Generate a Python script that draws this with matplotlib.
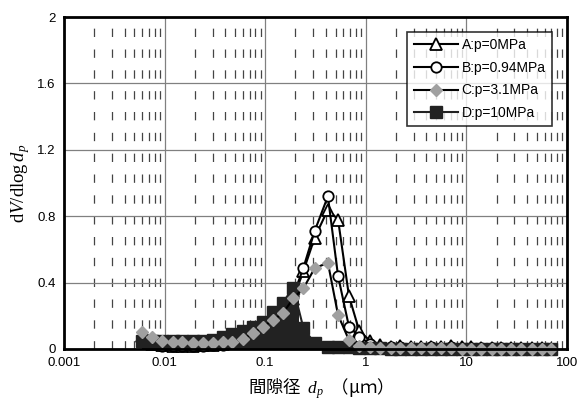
import matplotlib
matplotlib.use("Agg")
import matplotlib.pyplot as plt
from matplotlib.ticker import LogLocator, FixedLocator, NullFormatter

plt.rcParams['font.family'] = ['Liberation Sans', 'DejaVu Sans']
plt.rcParams['lines.scale_dashes'] = False
plt.rcParams['mathtext.fontset'] = 'custom'
plt.rcParams['mathtext.rm'] = 'Liberation Serif'
plt.rcParams['mathtext.it'] = 'Liberation Serif:italic'

# pore diameter (um), shared by all four runs
pore_d = [0.006, 0.0075, 0.0095, 0.012, 0.015, 0.019, 0.024, 0.03, 0.038, 0.047,
          0.06, 0.075, 0.095, 0.12, 0.15, 0.19, 0.24, 0.31, 0.42, 0.53,
          0.68, 0.86, 1.1, 1.4, 1.8, 2.2, 2.8, 3.5, 4.5, 5.6,
          7, 9, 11, 14, 18, 22, 28, 35, 45, 56, 70]

dv_A = [0.08, 0.03, 0.022, 0.02, 0.02, 0.02, 0.022, 0.025, 0.03, 0.045,
        0.055, 0.065, 0.1, 0.13, 0.2, 0.3, 0.47, 0.67, 0.84, 0.78,
        0.32, 0.11, 0.05, 0.025, 0.015, 0.02, 0.012, 0.015, 0.01, 0.012,
        0.018, 0.01, 0.015, 0.008, 0.008, 0.006, 0.005, 0.005, 0.004, 0.004, 0.003]

dv_B = [0.06, 0.028, 0.02, 0.02, 0.02, 0.02, 0.02, 0.022, 0.025, 0.035,
        0.05, 0.07, 0.1, 0.15, 0.22, 0.32, 0.49, 0.71, 0.92, 0.44,
        0.135, 0.075, 0.03, 0.015, 0.01, 0.012, 0.008, 0.006, 0.01, 0.006,
        0.012, 0.006, 0.006, 0.005, 0.004, 0.004, 0.003, 0.003, 0.002, 0.002, 0.002]

dv_C = [0.1, 0.07, 0.05, 0.045, 0.04, 0.035, 0.035, 0.035, 0.04, 0.045,
        0.06, 0.094, 0.134, 0.175, 0.215, 0.305, 0.366, 0.486, 0.52, 0.205,
        0.054, 0.02, 0.01, 0.008, 0.006, 0.006, 0.005, 0.005, 0.004, 0.004,
        0.004, 0.003, 0.003, 0.003, 0.002, 0.002, 0.002, 0.002, 0.001, 0.001, 0.001]

dv_D = [0.05, 0.05, 0.048, 0.048, 0.05, 0.05, 0.05, 0.055, 0.075, 0.09,
        0.11, 0.13, 0.16, 0.22, 0.28, 0.37, 0.125, 0.035, 0.015, 0.012,
        0.01, 0.008, 0.006, 0.004, 0.003, 0.003, 0.002, 0.002, 0.001, 0.001,
        0.0, 0.0, 0.0, 0.0, 0.0, 0.0, 0.0, 0.0, 0.0, 0.0, 0.0]

labels = ["A:p=0MPa", "B:p=0.94MPa", "C:p=3.1MPa", "D:p=10MPa"]
y_ticks = [0, 0.4, 0.8, 1.2, 1.6, 2]
y_ticklabels = ["0", "0.4", "0.8", "1.2", "1.6", "2"]
x_ticks = [0.001, 0.01, 0.1, 1, 10, 100]
x_ticklabels = ["0.001", "0.01", "0.1", "1", "10", "100"]

fig = plt.figure(figsize=(5.85, 4.09), dpi=100)
ax = fig.add_axes([0.1094, 0.1467, 0.8598, 0.8117])

ax.set_xscale('log')
ax.set_xlim(0.001, 100)
ax.set_ylim(0, 2)

# grid: solid majors, dashed minors on x
ax.xaxis.set_major_locator(FixedLocator(x_ticks))
ax.xaxis.set_minor_locator(LogLocator(base=10, subs=[2, 3, 4, 5, 6, 7, 8, 9]))
ax.xaxis.set_minor_formatter(NullFormatter())
ax.set_xticklabels(x_ticklabels)
ax.set_yticks(y_ticks)
ax.set_yticklabels(y_ticklabels)
ax.grid(True, which='major', axis='both', color='#808080', lw=0.9, ls='-')
ax.grid(True, which='minor', axis='x', color='#444444', lw=0.9, ls=(0, (6, 9)))
ax.set_axisbelow(True)
ax.tick_params(which='both', length=0, labelsize=9.5, pad=6)

hA, = ax.plot(pore_d, dv_A, color='black', lw=1.5, marker='^', ms=8,
              mfc='white', mec='black', mew=1.3, clip_on=False, zorder=2.2)
hB, = ax.plot(pore_d, dv_B, color='black', lw=1.5, marker='o', ms=7.5,
              mfc='white', mec='black', mew=1.3, clip_on=False, zorder=2.4)
# dark staircase under the D run (scan looks solid there)
ax.fill_between(pore_d, 0, dv_D, step='mid', color='#222222', lw=0, zorder=3)
hD, = ax.plot(pore_d, dv_D, color='#222222', lw=1.5, marker='s', ms=9,
              mfc='#222222', mec='#222222', clip_on=False, zorder=5)
hC, = ax.plot(pore_d, dv_C, color='black', lw=1.5, marker='D', ms=6.5,
              mfc='#a0a0a0', mec='#a0a0a0', clip_on=False, zorder=6)

for s in ax.spines.values():
    s.set_linewidth(2)
    s.set_zorder(7)

leg = ax.legend([hA, hB, hC, hD], labels, loc='upper right',
                bbox_to_anchor=(0.97, 0.955), fontsize=10, handlelength=3.2,
                frameon=True, fancybox=False, borderpad=0.45, labelspacing=0.62,
                handletextpad=0.25, borderaxespad=0)
leg.get_frame().set_edgecolor('black')
leg.get_frame().set_linewidth(1.2)
leg.set_zorder(10)

ax.set_ylabel(r'd$\mathit{V}$/dlog$\,\mathit{d_p}$', family=['Liberation Serif', 'DejaVu Serif'],
              fontsize=13.5, labelpad=4)
ax.set_xlabel(r'間隙径  $\mathit{d_p}$  （μｍ）', family=['Noto Sans CJK JP', 'DejaVu Sans'],
              fontsize=12.5, labelpad=5)

fig.savefig('out.png', dpi=100)
